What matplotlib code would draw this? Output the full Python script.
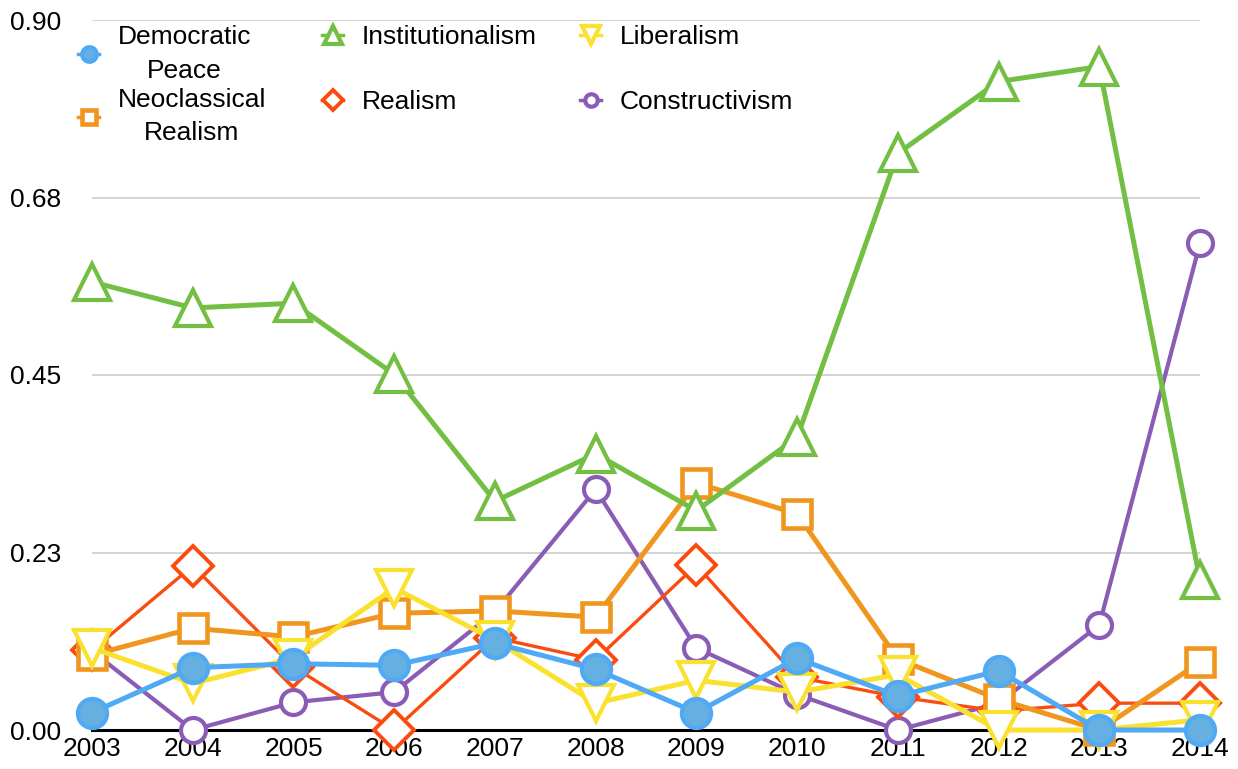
import matplotlib
matplotlib.use("Agg")
import matplotlib.pyplot as plt

plt.rcParams['font.family'] = ['Liberation Sans', 'DejaVu Sans']

years = list(range(2003, 2015))

democratic_peace = [0.022, 0.079, 0.084, 0.082, 0.110, 0.077, 0.022, 0.091, 0.043, 0.075, 0.0, 0.0]
neoclassical_realism = [0.095, 0.129, 0.118, 0.148, 0.151, 0.143, 0.313, 0.274, 0.090, 0.039, 0.0, 0.086]
institutionalism = [0.568, 0.535, 0.541, 0.451, 0.290, 0.350, 0.278, 0.371, 0.731, 0.822, 0.841, 0.190]
realism = [0.101, 0.208, 0.080, 0.0, 0.117, 0.089, 0.209, 0.067, 0.042, 0.024, 0.034, 0.034]
liberalism = [0.104, 0.059, 0.091, 0.180, 0.114, 0.034, 0.063, 0.048, 0.070, 0.0, 0.0, 0.013]
constructivism = [0.100, 0.0, 0.035, 0.048, 0.150, 0.305, 0.104, 0.045, 0.0, 0.034, 0.133, 0.617]

y_ticks = [0.0, 0.225, 0.45, 0.675, 0.9]
y_tick_labels = ["0.00", "0.23", "0.45", "0.68", "0.90"]

fig = plt.figure(figsize=(12.38, 7.69), dpi=100)
ax = fig.add_axes([92 / 1238, 39 / 769, 1108 / 1238, 710 / 769])

# bottom-to-top drawing order
l_con, = ax.plot(years, constructivism, color="#8a5cb5", lw=3.0, marker="o", ms=18,
                 mfc="white", mec="#8a5cb5", mew=3.0, zorder=3, clip_on=False,
                 label="Constructivism")
l_rea, = ax.plot(years, realism, color="#fb4c10", lw=2.4, marker="D", ms=20, mfc="white",
                 mec="#fb4c10", mew=2.8, zorder=4, clip_on=False, label="Realism")
l_neo, = ax.plot(years, neoclassical_realism, color="#f0961e", lw=3.6, marker="s", ms=19.5,
                 mfc="white", mec="#f0961e", mew=3.3, zorder=5, clip_on=False,
                 label="Neoclassical\nRealism")
l_ins, = ax.plot(years, institutionalism, color="#73bf43", lw=3.6, marker="^", ms=26,
                 mfc="white", mec="#73bf43", mew=3.0, zorder=6, clip_on=False,
                 label="Institutionalism")
l_lib, = ax.plot(years, liberalism, color="#fbe12f", lw=3.6, marker="v", ms=26, mfc="white",
                 mec="#fbe12f", mew=3.0, zorder=7, clip_on=False, label="Liberalism")
l_dem, = ax.plot(years, democratic_peace, color="#4fa9f4", lw=3.6, marker="o", ms=21,
                 mfc="#65b0e0", mec="#4fa9f4", mew=3.0, zorder=8, clip_on=False,
                 label="Democratic\nPeace")

ax.set_xlim(2003, 2014)
ax.set_ylim(0, 0.9)
ax.set_xticks(years)
ax.set_yticks(y_ticks)
ax.set_yticklabels(y_tick_labels)
ax.tick_params(axis="both", length=0, labelsize=19)
ax.tick_params(axis="y", pad=22)
ax.tick_params(axis="x", pad=5)
ax.grid(axis="y", color="#c8c8c8", lw=1.1)
ax.set_axisbelow(True)
for side in ["top", "right", "left"]:
    ax.spines[side].set_visible(False)
ax.spines["bottom"].set_color("black")
ax.spines["bottom"].set_linewidth(2.2)
ax.spines["bottom"].set_zorder(2.5)

# legend: three separate columns so rows line up with the two-line labels
leg_kw = dict(loc="upper left", frameon=False, fontsize=19, borderpad=0,
              handlelength=0.8, handletextpad=0.7, markerscale=0.5, borderaxespad=0)
top = 1 - 25 / 769
col1 = fig.legend([l_dem, l_neo], ["Democratic\nPeace", "Neoclassical\nRealism"],
                  bbox_to_anchor=(78 / 1238, top), labelspacing=0.2, **leg_kw)
for t in col1.get_texts():
    t.set_multialignment("center")
    t.set_linespacing(1.5)
col2 = fig.legend([l_ins, l_rea], ["Institutionalism", "Realism"],
                  bbox_to_anchor=(322 / 1238, top), labelspacing=1.55, **leg_kw)
col3 = fig.legend([l_lib, l_con], ["Liberalism", "Constructivism"],
                  bbox_to_anchor=(580 / 1238, top), labelspacing=1.55, **leg_kw)
for lg in (col1, col2, col3):
    for h in lg.legend_handles:
        h.set_linewidth(2.5)

fig.savefig("out.png", dpi=100)
